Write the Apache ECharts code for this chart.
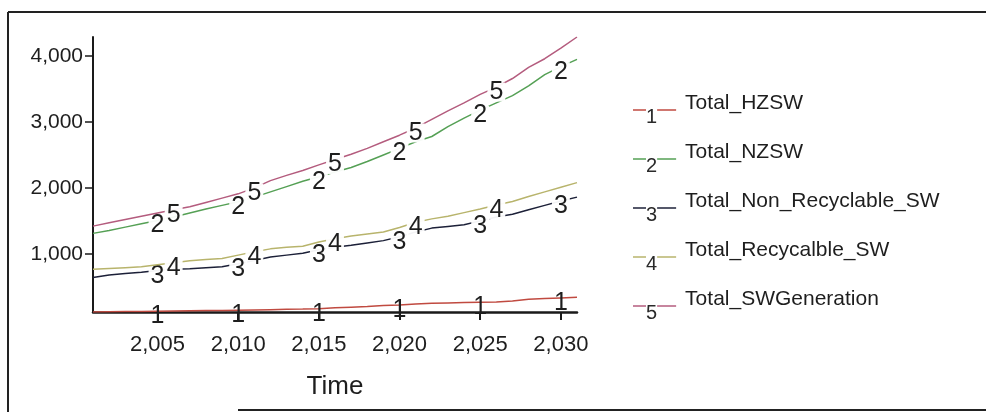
<!DOCTYPE html>
<html>
<head>
<meta charset="utf-8">
<script src="https://cdn.jsdelivr.net/npm/echarts@6/dist/echarts.min.js"></script>
<style>
  html, body { margin: 0; padding: 0; background: #ffffff; }
  #chart { width: 986px; height: 412px; }
</style>
</head>
<body>
<div id="chart"></div>
<script>
// Solid waste projections, simulated yearly from 2001 to 2031
const years = [2001, 2002, 2003, 2004, 2005, 2006, 2007, 2008, 2009, 2010,
               2011, 2012, 2013, 2014, 2015, 2016, 2017, 2018, 2019, 2020,
               2021, 2022, 2023, 2024, 2025, 2026, 2027, 2028, 2029, 2030, 2031];

const totalHZSW = [117, 120, 123, 126, 129, 132, 135, 138, 141, 145,
                   149, 153, 157, 161, 168, 180, 190, 200, 215, 222,
                   240, 250, 255, 260, 265, 268, 285, 310, 320, 330, 340];
const totalNZSW = [1310, 1355, 1405, 1455, 1505, 1560, 1620, 1680, 1735, 1790,
                   1860, 1940, 2020, 2100, 2170, 2240, 2310, 2400, 2500, 2600,
                   2700, 2780, 2930, 3060, 3180, 3290, 3400, 3550, 3720, 3840, 3950];
const totalNonRecyclable = [640, 680, 700, 720, 745, 765, 775, 790, 805, 850,
                            900, 950, 980, 1010, 1060, 1100, 1130, 1165, 1200, 1260,
                            1330, 1390, 1415, 1440, 1500, 1560, 1600, 1670, 1735, 1800, 1860];
const totalRecyclable = [765, 778, 790, 803, 835, 865, 894, 912, 930, 980,
                         1030, 1075, 1100, 1115, 1180, 1230, 1270, 1300, 1330, 1400,
                         1480, 1530, 1570, 1625, 1680, 1740, 1795, 1870, 1940, 2010, 2080];
const totalSWGeneration = [1420, 1470, 1520, 1570, 1620, 1670, 1715, 1780, 1845, 1910,
                           2000, 2110, 2190, 2265, 2350, 2430, 2510, 2600, 2700, 2800,
                           2910, 3040, 3170, 3290, 3420, 3530, 3660, 3830, 3960, 4120, 4290];

const seriesNames = ['Total_HZSW', 'Total_NZSW', 'Total_Non_Recyclable_SW',
                     'Total_Recycalble_SW', 'Total_SWGeneration'];
const seriesValues = [totalHZSW, totalNZSW, totalNonRecyclable, totalRecyclable, totalSWGeneration];
const seriesColors = ['#c04a40', '#55a055', '#1c2038', '#b8b46c', '#b45c7e'];

// years at which each line carries its number marker
const markerYears = [
  [2005, 2010, 2015, 2020, 2025, 2030],
  [2005, 2010, 2015, 2020, 2025, 2030],
  [2005, 2010, 2015, 2020, 2025, 2030],
  [2006, 2011, 2016, 2021, 2026],
  [2006, 2011, 2016, 2021, 2026]
];

const xTicks = [2005, 2010, 2015, 2020, 2025, 2030];
const yTicks = [1000, 2000, 3000, 4000];

const FONT = '"Liberation Sans", Arial, sans-serif';
const fmt = v => Number(v).toLocaleString('en-US');

const allValues = [].concat(...seriesValues);
const yMin = Math.min(...allValues);
const yMax = Math.max(...allValues);

const series = seriesNames.map((name, i) => ({
  name: name,
  type: 'line',
  smooth: false,
  symbol: 'circle',
  symbolSize: 0,
  showAllSymbol: true,
  lineStyle: { color: seriesColors[i], width: 1.5 },
  itemStyle: { color: seriesColors[i] },
  z: 3 + i,
  data: years.map((yr, k) => {
    const item = { value: [yr, seriesValues[i][k]] };
    if (markerYears[i].includes(yr)) {
      item.label = {
        show: true,
        position: 'inside',
        offset: [0, 5],
        formatter: String(i + 1),
        color: '#1e1e1e',
        fontFamily: FONT,
        fontSize: 25,
        lineHeight: 19,
        padding: [0, 2],
        backgroundColor: i === 0 ? 'transparent' : 'rgba(255,255,255,0.95)'
      };
    }
    return item;
  })
}));

// legend rich text: coloured stub, number, coloured stub, name
const rich = {
  t: { fontFamily: FONT, fontSize: 21, color: '#1e1e1e', verticalAlign: 'top', lineHeight: 22, padding: [0, 0, 0, 9] },
  d: { fontFamily: FONT, fontSize: 20, color: '#2a2a2a', verticalAlign: 'bottom', lineHeight: 34 }
};
seriesColors.forEach((c, i) => {
  rich['a' + i] = { width: 13, height: 1.5, backgroundColor: c, verticalAlign: 'middle' };
  rich['b' + i] = { width: 19, height: 1.5, backgroundColor: c, verticalAlign: 'middle' };
});

const option = {
  backgroundColor: '#ffffff',
  animation: false,
  grid: { left: 93, right: 409, top: 37, bottom: 100 },
  legend: {
    orient: 'vertical',
    left: 627,
    top: 93,
    padding: 0,
    itemGap: 15,
    itemWidth: 0,
    itemHeight: 0,
    selectedMode: false,
    data: seriesNames,
    formatter: name => {
      const i = seriesNames.indexOf(name);
      return `{a${i}|}{d|${i + 1}}{b${i}|}{t|${name}}`;
    },
    textStyle: { rich: rich }
  },
  xAxis: {
    type: 'value',
    min: years[0],
    max: years[years.length - 1],
    name: 'Time',
    nameLocation: 'middle',
    nameGap: 62,
    nameTextStyle: { fontFamily: FONT, fontSize: 26, color: '#1e1e1e' },
    axisLine: { onZero: false, lineStyle: { color: '#1a1a1a', width: 2.5 } },
    axisTick: { show: true, customValues: xTicks, length: 8, lineStyle: { color: '#1a1a1a', width: 2 } },
    axisLabel: { customValues: xTicks, formatter: fmt, fontFamily: FONT, fontSize: 22, color: '#1e1e1e', margin: 22 },
    splitLine: { show: false }
  },
  yAxis: {
    type: 'value',
    min: yMin,
    max: yMax,
    axisLine: { show: true, onZero: false, lineStyle: { color: '#1a1a1a', width: 2 } },
    axisTick: { show: true, customValues: yTicks, length: 8, lineStyle: { color: '#1a1a1a', width: 1.5 } },
    axisLabel: { customValues: yTicks, formatter: fmt, fontFamily: FONT, fontSize: 21, color: '#1e1e1e', margin: 10 },
    splitLine: { show: false }
  },
  graphic: [
    { type: 'line', shape: { x1: 8, y1: 12, x2: 8, y2: 412 }, style: { stroke: '#222', lineWidth: 2 } },
    { type: 'line', shape: { x1: 8, y1: 12, x2: 986, y2: 12 }, style: { stroke: '#222', lineWidth: 2 } },
    { type: 'line', shape: { x1: 238, y1: 410, x2: 986, y2: 410 }, style: { stroke: '#222', lineWidth: 2 } }
  ],
  series: series
};

const chart = echarts.init(document.getElementById('chart'), null, { renderer: 'canvas' });
chart.setOption(option);
</script>
</body>
</html>
